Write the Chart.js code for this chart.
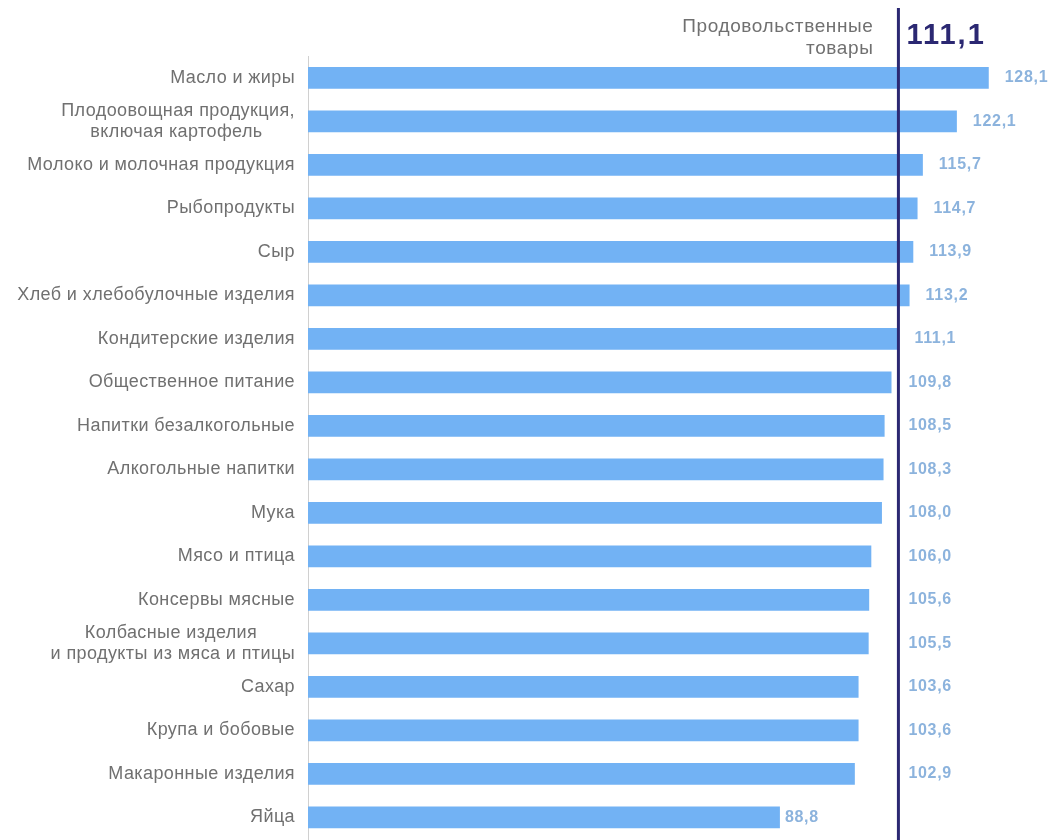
<!DOCTYPE html>
<html>
<head>
<meta charset="utf-8">
<script src="https://cdn.jsdelivr.net/npm/chart.js@4/dist/chart.umd.min.js"></script>
<style>
  html, body { margin: 0; padding: 0; background: #fff; }
  #wrap { width: 1057px; height: 840px; position: relative; }
</style>
</head>
<body>
<div id="wrap"><canvas id="chart"></canvas></div>
<script>
// данные
const categories = [
  ['Масло и жиры'],
  ['Плодоовощная продукция,', 'включая картофель'],
  ['Молоко и молочная продукция'],
  ['Рыбопродукты'],
  ['Сыр'],
  ['Хлеб и хлебобулочные изделия'],
  ['Кондитерские изделия'],
  ['Общественное питание'],
  ['Напитки безалкогольные'],
  ['Алкогольные напитки'],
  ['Мука'],
  ['Мясо и птица'],
  ['Консервы мясные'],
  ['Колбасные изделия', 'и продукты из мяса и птицы'],
  ['Сахар'],
  ['Крупа и бобовые'],
  ['Макаронные изделия'],
  ['Яйца']
];
const values = [128.1, 122.1, 115.7, 114.7, 113.9, 113.2, 111.1, 109.8, 108.5, 108.3, 108.0, 106.0, 105.6, 105.5, 103.6, 103.6, 102.9, 88.8];
const totalLabel = ['Продовольственные', 'товары'];
const totalValue = 111.1;

const FONT = '"Liberation Sans", Arial, sans-serif';
const LABEL_SPACING = '0.4px';

const fmt = v => v.toFixed(1).replace('.', ',');

// двухстрочные подписи выравниваем по центру (добиваем пробелами справа)
const mctx = document.createElement('canvas').getContext('2d');
mctx.font = '18px ' + FONT;
mctx.letterSpacing = LABEL_SPACING;
const labels = categories.map(lines => {
  if (lines.length === 1) return lines[0];
  const widths = lines.map(l => mctx.measureText(l).width);
  const maxW = Math.max(...widths);
  const sp = mctx.measureText(' ').width;
  return lines.map((l, i) => l + ' '.repeat(Math.round((maxW - widths[i]) / 2 / sp)));
});

// линия и подписи
const overlay = {
  id: 'overlay',
  beforeDraw(chart) {
    chart.ctx.letterSpacing = LABEL_SPACING;
  },
  afterDatasetsDraw(chart) {
    const ctx = chart.ctx;
    const x = chart.scales.x;
    const lineX = x.getPixelForValue(totalValue);
    const meta = chart.getDatasetMeta(0);

    ctx.save();
    // значения
    ctx.font = 'bold 16px ' + FONT;
    ctx.letterSpacing = '0.7px';
    ctx.fillStyle = '#8cb3dd';
    ctx.textBaseline = 'middle';
    ctx.textAlign = 'left';
    meta.data.forEach((bar, i) => {
      const txt = fmt(values[i]);
      const w = ctx.measureText(txt).width;
      let tx;
      if (bar.x >= lineX - 1) tx = bar.x + 16;
      else if (bar.x + 5 + w + 10 < lineX) tx = bar.x + 5;
      else tx = lineX + 10;
      ctx.fillText(txt, tx, bar.y);
    });

    // вертикальная линия
    ctx.strokeStyle = '#2b2872';
    ctx.lineWidth = 3;
    ctx.beginPath();
    ctx.moveTo(lineX, 8);
    ctx.lineTo(lineX, chart.height);
    ctx.stroke();

    // подпись линии
    ctx.font = '19px ' + FONT;
    ctx.letterSpacing = '0.6px';
    ctx.fillStyle = '#707070';
    ctx.textAlign = 'right';
    ctx.fillText(totalLabel[0], lineX - 25, 27);
    ctx.fillText(totalLabel[1], lineX - 25, 49);
    ctx.font = 'bold 29px ' + FONT;
    ctx.letterSpacing = '2px';
    ctx.fillStyle = '#2b2872';
    ctx.textAlign = 'left';
    ctx.fillText(fmt(totalValue), lineX + 8, 36);
    ctx.restore();
  }
};

new Chart(document.getElementById('chart'), {
  type: 'bar',
  data: {
    labels: labels,
    datasets: [{
      data: values,
      backgroundColor: '#72b2f4',
      barPercentage: 0.5,
      categoryPercentage: 1
    }]
  },
  options: {
    indexAxis: 'y',
    responsive: true,
    maintainAspectRatio: false,
    animation: false,
    layout: { padding: { top: 56, bottom: 1, left: 0, right: 5 } },
    plugins: {
      legend: { display: false },
      tooltip: { enabled: false }
    },
    scales: {
      x: {
        display: false,
        min: 0,
        max: 140
      },
      y: {
        afterFit(scale) {
          scale.width = 308;
          scale.paddingTop = 0;
          scale.paddingBottom = 0;
        },
        grid: { display: false, drawTicks: false },
        border: { color: '#d0d0d0', width: 1 },
        ticks: {
          autoSkip: false,
          padding: 13,
          color: '#707070',
          font: { family: FONT, size: 18, lineHeight: 1.15 }
        }
      }
    }
  },
  plugins: [overlay]
});
</script>
</body>
</html>
